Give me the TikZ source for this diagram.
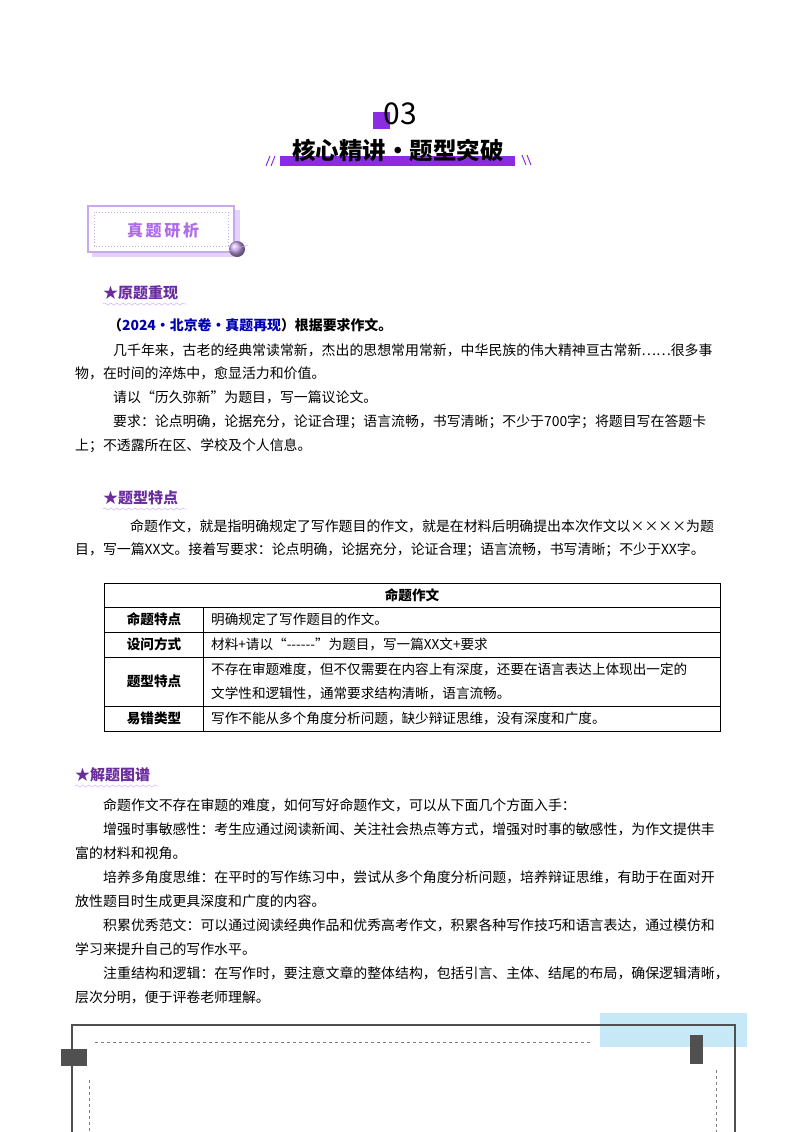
\documentclass[tikz,border=0pt]{standalone}
\usepackage{fontspec}
\setmainfont{Noto Sans CJK SC}
\usetikzlibrary{decorations.pathmorphing}
\definecolor{pur}{HTML}{8B2BE2}
\definecolor{dpur}{HTML}{6A2C9E}
\definecolor{lpur}{HTML}{C9A8EE}
\definecolor{lblue}{HTML}{C7E8F6}
\definecolor{dgray}{HTML}{505050}
\tikzset{
 txt/.style={anchor=west,inner sep=0pt,font=\fontsize{13.9}{16}\selectfont},
 sec/.style={anchor=west,inner sep=0pt,font=\fontsize{15}{18}\selectfont\bfseries,text=dpur},
 cell/.style={anchor=west,inner sep=0pt,font=\fontsize{13.6}{16}\selectfont},
 hcell/.style={inner sep=0pt,font=\fontsize{13.6}{16}\selectfont\bfseries},
}
\begin{document}
\begin{tikzpicture}[x=1pt,y=-1pt]
\useasboundingbox (0,0) rectangle (800,1132);
% header
\fill[pur] (373,112) rectangle (390,129);
\node[inner sep=0pt,font=\fontsize{30}{30}\selectfont] (num) at (400,114) {03};
\fill[pur] (280,156) rectangle (515,166);
\node[inner sep=0pt,font=\fontsize{23.5}{24}\selectfont\bfseries] (title) at (398,150) {核心精讲·题型突破};
\draw[pur,line width=1pt] (266,166)--(270,156) (271,166)--(275,156);
\draw[pur,line width=1pt] (522,155)--(526,165) (527,155)--(531,165);
% 真题研析 box
\fill[lpur!50] (92,210) rectangle (240,257);
\draw[lpur,line width=1.2pt,fill=white] (88,206) rectangle (234,252);
\draw[lpur,dotted,line width=1pt] (94,212) rectangle (228,246);
\node[inner sep=0pt,font=\fontsize{16}{16}\selectfont\bfseries,text=pur!70] (zt) at (163,230) {真\,题\,研\,析};
\shade[ball color=lpur] (237,249) circle (8);
\draw[lpur] (226,252) -- (248,245);
% section 1
\node[sec] (s1) at (103,293) {★原题重现};
\draw[lpur,decorate,decoration={snake,amplitude=1.2pt,segment length=6pt}] (103,304)--(187,304);
\node[txt] (l0) at (108,325) {\bfseries （{\color{blue!70!black}2024·北京卷·真题再现}）根据要求作文。};
\node[txt] (l1) at (113,350) {几千年来，古老的经典常读常新，杰出的思想常用常新，中华民族的伟大精神亘古常新……很多事};
\node[txt] (l2) at (75,373) {物，在时间的淬炼中，愈显活力和价值。};
\node[txt] (l3) at (113,397) {请以“历久弥新”为题目，写一篇议论文。};
\node[txt] (l4) at (113,422) {要求：论点明确，论据充分，论证合理；语言流畅，书写清晰；不少于700字；将题目写在答题卡};
\node[txt] (l5) at (75,446) {上；不透露所在区、学校及个人信息。};
% section 2
\node[sec] (s2) at (103,498) {★题型特点};
\draw[lpur,decorate,decoration={snake,amplitude=1.2pt,segment length=6pt}] (103,509)--(187,509);
\node[txt] (m1) at (130,526) {命题作文，就是指明确规定了写作题目的作文，就是在材料后明确提出本次作文以××××为题};
\node[txt] (m2) at (75,550) {目，写一篇XX文。接着写要求：论点明确，论据充分，论证合理；语言流畅，书写清晰；不少于XX字。};
% table
\draw[line width=0.8pt] (104,583) rectangle (720,731);
\draw[line width=0.6pt] (104,607)--(720,607) (104,632)--(720,632) (104,657)--(720,657) (104,706)--(720,706) (203,607)--(203,731);
\node[hcell] (th) at (412,595) {命题作文};
\node[hcell] (r1) at (154,619) {命题特点};
\node[hcell] (r2) at (154,644) {设问方式};
\node[hcell] (r3) at (154,681) {题型特点};
\node[hcell] (r4) at (154,718) {易错类型};
\node[cell] (c1) at (211,619) {明确规定了写作题目的作文。};
\node[cell] (c2) at (211,644) {材料+请以“{-}{-}{-}{-}{-}{-}”为题目，写一篇XX文+要求};
\node[cell] (c3a) at (211,669) {不存在审题难度，但不仅需要在内容上有深度，还要在语言表达上体现出一定的};
\node[cell] (c3b) at (211,693) {文学性和逻辑性，通常要求结构清晰，语言流畅。};
\node[cell] (c4) at (211,718) {写作不能从多个角度分析问题，缺少辩证思维，没有深度和广度。};
% section 3
\node[sec] (s3) at (75,775) {★解题图谱};
\draw[lpur,decorate,decoration={snake,amplitude=1.2pt,segment length=6pt}] (75,786)--(159,786);
\node[txt] (p1) at (103,805) {命题作文不存在审题的难度，如何写好命题作文，可以从下面几个方面入手：};
\node[txt] (p2) at (103,829) {增强时事敏感性：考生应通过阅读新闻、关注社会热点等方式，增强对时事的敏感性，为作文提供丰};
\node[txt] (p3) at (75,853) {富的材料和视角。};
\node[txt] (p4) at (103,877) {培养多角度思维：在平时的写作练习中，尝试从多个角度分析问题，培养辩证思维，有助于在面对开};
\node[txt] (p5) at (75,901) {放性题目时生成更具深度和广度的内容。};
\node[txt] (p6) at (103,925) {积累优秀范文：可以通过阅读经典作品和优秀高考作文，积累各种写作技巧和语言表达，通过模仿和};
\node[txt] (p7) at (75,949) {学习来提升自己的写作水平。};
\node[txt] (p8) at (103,973) {注重结构和逻辑：在写作时，要注意文章的整体结构，包括引言、主体、结尾的布局，确保逻辑清晰，};
\node[txt] (p9) at (75,997) {层次分明，便于评卷老师理解。};
% bottom frame
\fill[lblue] (600,1013) rectangle (747,1047);
\draw[dgray,line width=1.5pt] (72,1140)--(72,1025)--(735,1025)--(735,1140);
\draw[gray,dashed,line width=0.6pt] (95,1042)--(590,1042);
\fill[dgray] (61,1049) rectangle (87,1066);
\fill[dgray] (690,1035) rectangle (703,1064);
\draw[gray,dashed,line width=0.6pt] (89,1080)--(89,1132) (716,1070)--(716,1132);
\end{tikzpicture}
\end{document}
